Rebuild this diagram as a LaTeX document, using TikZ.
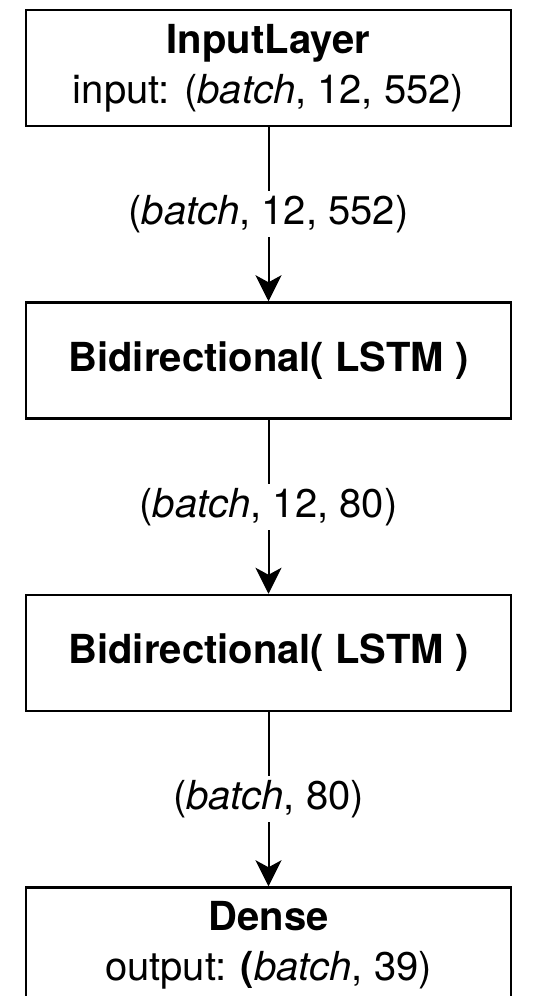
\documentclass[tikz,border=0pt]{standalone}
\usepackage{fontspec}
\setmainfont{TeX Gyre Heros}
\usetikzlibrary{positioning,arrows.meta}

\begin{document}
\begin{tikzpicture}[
    x=1pt, y=-1pt,
    node distance=174pt,
    layer/.style={rectangle, draw, line width=2.5pt, minimum width=485pt, minimum height=116pt, align=center, font=\fontsize{40}{50}\selectfont},
    dims/.style={fill=white, inner sep=4pt, font=\fontsize{40}{46}\selectfont},
    flow/.style={-{Stealth[length=26pt, width=26pt, inset=7pt]}, line width=2pt}
]
    \useasboundingbox (0,0) rectangle (536,996);
    \clip (0,0) rectangle (536,996);

    \node[layer] (inp) at (268.5, 68) {\textbf{InputLayer}\\input: (\textit{batch}, 12, 552)};
    \node[layer, below=of inp] (bi1) {\textbf{Bidirectional( LSTM )}};
    \node[layer, below=of bi1] (bi2) {\textbf{Bidirectional( LSTM )}};
    \node[layer, below=of bi2] (dense) {\textbf{Dense}\\output: \textbf{(}\textit{batch}, 39)};

    \draw[flow] (inp) -- node[dims] {(\textit{batch}, 12, 552)} (bi1);
    \draw[flow] (bi1) -- node[dims] {(\textit{batch}, 12, 80)} (bi2);
    \draw[flow] (bi2) -- node[dims] {(\textit{batch}, 80)} (dense);

\end{tikzpicture}
\end{document}
